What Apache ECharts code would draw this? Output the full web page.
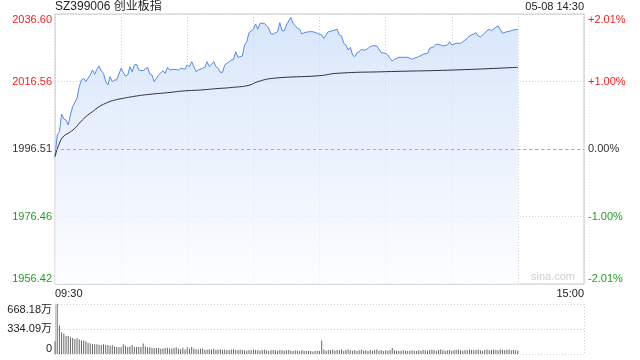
<!DOCTYPE html>
<html><head><meta charset="utf-8">
<script src="https://cdn.jsdelivr.net/npm/echarts@6/dist/echarts.min.js"></script>
<style>html,body{margin:0;padding:0;background:#fff}#c{width:640px;height:360px}</style>
</head><body><div id="c"></div>
<script>
// ---- data ----
const titleText = 'SZ399006 创业板指';
const stampText = '05-08 14:30';
const watermark = 'sina.com';
const prevClose = 1996.51;
const priceTickLabels = ['1956.42','1976.46','1996.51','2016.56','2036.60'];
const pctTickLabels = ['-2.01%','-1.00%','0.00%','+1.00%','+2.01%'];
const volTickLabels = ['0','334.09万','668.18万'];
const volMax = 668.18;
const timeLabels = ['09:30','15:00'];

// trading minutes since 09:30 (11:30 == 13:00 == 120)
const priceMin = [0,1,2,3,4,5,6,7,8,10,11,12,13,14,16,17,18,19,20,21,22,23,24,25,26,27,28,30,31,32,33,34,35,36,37,38,40,42,43,44,45,46,47,49,50,51,52,54,56,57,59,60,61,62,64,65,67,68,69,70,72,73,74,75,76,77,79,80,81,82,83,84,85,86,87,88,90,91,92,93,95,97,98,99,101,102,103,104,105,107,108,110,111,112,113,115,117,119,121,122,123,124,126,128,129,130,131,132,133,134,135,136,137,138,139,140,141,143,144,146,147,148,150,151,152,153,154,156,158,160,162,163,165,167,169,170,172,173,175,176,178,179,180,182,184,185,187,188,190,191,192,193,194,196,197,198,200,201,202,203,205,207,208,210];
const priceVal = [1994.22,2000.67,2001.65,2006.90,2005.42,2005.12,2003.64,2006.61,2009.07,2011.57,2015.01,2017.00,2017.51,2016.50,2018.49,2019.97,2018.69,2020.18,2021.16,2019.67,2018.99,2016.50,2015.52,2017.98,2016.50,2017.00,2017.00,2020.48,2019.17,2018.19,2018.49,2020.95,2019.47,2021.46,2021.66,2019.97,2019.76,2020.77,2018.78,2018.49,2016.50,2017.51,2018.49,2019.76,2018.99,2020.77,2019.97,2020.18,2019.97,2020.48,2020.18,2021.46,2020.95,2022.44,2019.47,2019.97,2020.48,2020.77,2022.44,2020.95,2022.44,2020.95,2020.48,2019.29,2019.29,2021.46,2022.44,2022.94,2023.15,2025.40,2023.74,2023.92,2024.13,2027.39,2028.37,2031.05,2032.06,2033.63,2032.06,2033.84,2033.84,2032.35,2030.66,2030.66,2031.34,2034.02,2031.64,2031.64,2033.33,2035.62,2033.84,2032.35,2032.06,2030.66,2031.05,2031.34,2031.34,2030.87,2030.36,2029.38,2030.36,2031.34,2031.64,2032.06,2030.36,2030.07,2027.90,2027.39,2025.91,2026.71,2024.42,2023.92,2025.11,2025.40,2026.12,2025.91,2025.91,2026.89,2027.19,2027.10,2026.12,2025.11,2024.93,2024.42,2023.44,2022.64,2023.15,2023.74,2023.74,2023.74,2023.15,2023.44,2023.92,2024.63,2024.93,2026.41,2026.89,2027.69,2027.39,2027.10,2027.39,2028.37,2027.39,2027.90,2027.90,2028.37,2029.38,2030.07,2030.66,2031.05,2030.07,2029.86,2030.36,2031.64,2032.06,2031.64,2032.65,2033.04,2032.06,2030.87,2031.34,2031.64,2031.85,2032.06];

const avgMin = [0,2,4,6,9,11,14,17,20,23,26,31,37,43,51,58,66,73,81,88,92,99,120,128,150,181,210];
const avgVal = [1994.22,1998.20,2000.37,2001.17,2002.66,2004.14,2006.10,2007.59,2009.07,2010.08,2010.85,2011.57,2012.25,2012.75,2013.23,2013.73,2014.03,2014.42,2014.83,2015.43,2016.50,2017.51,2018.28,2018.99,2019.47,2019.97,2020.77];

// volume per minute (万), minute 0..210
const volume = [
170,668.18,380,290,270,240,240,225,215,200,
210,195,180,180,170,150,140,130,130,130,
125,120,130,120,120,110,120,100,95,95,
95,130,110,95,100,120,95,95,95,95,
140,100,90,90,85,80,80,80,70,75,
80,85,75,75,80,90,70,65,85,60,
90,70,95,70,65,60,70,75,55,60,
65,60,70,55,60,65,55,60,50,55,
60,65,55,50,60,55,50,45,55,50,
60,55,50,45,55,60,50,45,50,55,
50,45,55,50,45,50,55,45,40,50,
45,40,50,45,40,45,40,35,40,45,
40,180,60,45,55,50,60,45,55,50,
60,45,55,60,50,45,55,40,50,60,
45,50,40,55,45,50,60,45,55,40,
50,45,55,80,50,45,40,45,50,45,
40,45,50,45,40,50,45,55,50,45,
55,60,50,45,55,60,50,45,50,55,
45,50,55,60,50,45,55,50,60,55,
50,55,60,50,45,55,60,50,55,60,
55,50,60,55,50,55,60,50,55,50,
45];

// ---- chart ----
const FONT = 'Arial, "Liberation Sans", "Noto Sans CJK SC", sans-serif';
const yRange = 40.09, yStep = 20.045;
const UP = '#f21f1f', DOWN = '#1e9e1e', FLAT = '#333';
const tIdx = v => Math.round((v + yRange) / yStep);
const rich = {u:{color:UP,fontSize:11,fontFamily:FONT}, d:{color:DOWN,fontSize:11,fontFamily:FONT}, f:{color:FLAT,fontSize:11,fontFamily:FONT}};
const tag = i => i > 2 ? 'u' : (i < 2 ? 'd' : 'f');
const dotted = {color:'#d0d0d0', type:[1,2], width:1};

const chart = echarts.init(document.getElementById('c'), null, {renderer:'canvas'});
chart.setOption({
  animation:false,
  textStyle:{fontFamily:FONT},
  grid:[
    {left:55, right:56, top:14, height:270, show:true, borderColor:'#c8c8c8', borderWidth:1, backgroundColor:'transparent'},
    {left:55, right:56, top:304, height:50}
  ],
  xAxis:[
    {gridIndex:0, type:'value', min:0, max:240, interval:30,
     axisLine:{show:false}, axisTick:{show:false},
     splitLine:{show:true, lineStyle:dotted},
     axisLabel:{show:true, margin:4, fontSize:11, color:'#222', fontFamily:FONT,
       alignMinLabel:'left', alignMaxLabel:'right',
       formatter:v => v === 0 ? timeLabels[0] : (v === 240 ? timeLabels[1] : '')}},
    {gridIndex:1, type:'value', min:0, max:240, interval:240,
     axisLine:{show:false}, axisTick:{show:false}, axisLabel:{show:false},
     splitLine:{show:true, lineStyle:dotted}}
  ],
  yAxis:[
    {gridIndex:0, type:'value', position:'left', min:-yRange, max:yRange, interval:yStep,
     axisLine:{show:false}, axisTick:{show:false},
     splitLine:{show:true, lineStyle:dotted},
     axisLabel:{margin:3, verticalAlignMinLabel:'bottom', verticalAlignMaxLabel:'top',
       formatter:v => { const i = tIdx(v); return '{' + tag(i) + '|' + priceTickLabels[i] + '}'; }, rich}},
    {gridIndex:0, type:'value', position:'right', min:-yRange, max:yRange, interval:yStep,
     axisLine:{show:false}, axisTick:{show:false}, splitLine:{show:false},
     axisLabel:{margin:4, verticalAlignMinLabel:'bottom', verticalAlignMaxLabel:'top',
       formatter:v => { const i = tIdx(v); return '{' + tag(i) + '|' + pctTickLabels[i] + '}'; }, rich}},
    {gridIndex:1, type:'value', position:'left', min:0, max:volMax, interval:volMax/2,
     axisLine:{show:true, lineStyle:{color:'#c8c8c8'}}, axisTick:{show:false},
     splitLine:{show:true, lineStyle:dotted},
     axisLabel:{margin:3, fontSize:11, color:'#222', fontFamily:FONT,
       verticalAlignMinLabel:'bottom', verticalAlignMaxLabel:'top',
       formatter:v => volTickLabels[Math.round(v / (volMax/2))]}}
  ],
  series:[
    {type:'line', xAxisIndex:0, yAxisIndex:0, symbol:'none', silent:true,
     data:priceMin.map((m,i) => [m, priceVal[i] - prevClose]),
     lineStyle:{color:'#5588ee', width:1},
     areaStyle:{origin:'start', color:new echarts.graphic.LinearGradient(0,0,0,1,[
       {offset:0, color:'#c8dbf8'}, {offset:1, color:'#fbfcff'}])},
     markLine:{silent:true, symbol:'none', label:{show:false},
       lineStyle:{color:'#aaaaaa', type:[3,3], width:1}, data:[{yAxis:0}]}},
    {type:'line', xAxisIndex:0, yAxisIndex:0, symbol:'none', silent:true, smooth:true,
     data:avgMin.map((m,i) => [m, avgVal[i] - prevClose]),
     lineStyle:{color:'#2b2f3a', width:1}},
    {type:'bar', xAxisIndex:1, yAxisIndex:2, silent:true, barWidth:1,
     data:volume.map((v,i) => [i, v]),
     itemStyle:{color:'#666'}}
  ],
  graphic:[
    {type:'text', left:55, top:1, style:{text:titleText, fontSize:12, fill:'#222', fontFamily:FONT}},
    {type:'text', right:56, top:1, style:{text:stampText, fontSize:11, fill:'#222', fontFamily:FONT}},
    {type:'text', right:65, top:271, style:{text:watermark, fontSize:11, fill:'#cfcfcf', fontFamily:FONT}}
  ]
});
</script>
</body></html>
